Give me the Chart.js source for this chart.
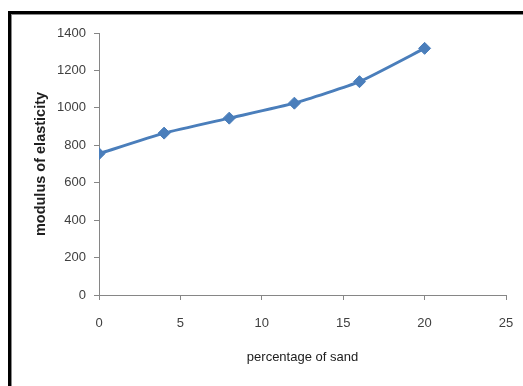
<!DOCTYPE html>
<html>
<head>
<meta charset="utf-8">
<script src="https://cdn.jsdelivr.net/npm/chart.js@4/dist/chart.umd.min.js"></script>
<style>
  html, body { margin: 0; padding: 0; background: #ffffff; }
  #wrap { position: relative; width: 523px; height: 386px; }
  canvas { display: block; }
</style>
</head>
<body>
<div id="wrap"><canvas id="chart" width="523" height="386"></canvas></div>
<script>
// Sand content (%) and the measured modulus of elasticity
const sandPercent = [0, 4, 8, 12, 16, 20];
const modulus = [755, 865, 945, 1025, 1140, 1318];

const xTicks = [0, 5, 10, 15, 20, 25];
const yTicks = [0, 200, 400, 600, 800, 1000, 1200, 1400];

const points = sandPercent.map((x, i) => ({ x: x, y: modulus[i] }));

const axisColor = '#868686';
const labelColor = '#404040';
const fontFamily = "'Liberation Sans', Arial, sans-serif";

// Black frame along the top and left edges of the figure
const framePlugin = {
  id: 'frame',
  afterDraw(chart) {
    const ctx = chart.ctx;
    ctx.save();
    ctx.strokeStyle = '#000000';
    ctx.lineWidth = 3;
    ctx.beginPath();
    ctx.moveTo(8, 12.5);
    ctx.lineTo(523, 12.5);
    ctx.moveTo(9.5, 11);
    ctx.lineTo(9.5, 386);
    ctx.stroke();
    ctx.strokeStyle = '#8a8a8a';
    ctx.lineWidth = 1;
    ctx.beginPath();
    ctx.moveTo(11, 14.5);
    ctx.lineTo(523, 14.5);
    ctx.moveTo(11.5, 14);
    ctx.lineTo(11.5, 386);
    ctx.stroke();
    ctx.restore();
  }
};

const whiteBg = {
  id: 'whiteBg',
  beforeDraw(chart) {
    const ctx = chart.ctx;
    ctx.save();
    ctx.fillStyle = '#ffffff';
    ctx.fillRect(0, 0, chart.width, chart.height);
    ctx.restore();
  }
};

new Chart(document.getElementById('chart'), {
  type: 'scatter',
  data: {
    datasets: [{
      data: points,
      showLine: true,
      borderColor: '#4a7ebb',
      backgroundColor: '#4a7ebb',
      borderWidth: 3,
      tension: 0.15,
      pointStyle: 'rectRot',
      pointRadius: 6,
      pointHoverRadius: 6,
      pointBorderWidth: 1
    }]
  },
  options: {
    responsive: false,
    animation: false,
    events: [],
    layout: { padding: { left: 0, top: 33, right: 17, bottom: 0 } },
    plugins: {
      legend: { display: false },
      tooltip: { enabled: false }
    },
    scales: {
      x: {
        type: 'linear',
        min: 0,
        max: 25,
        afterFit(scale) {
          scale.height = 91;
          scale.paddingLeft = 0;
          scale.paddingRight = 0;
        },
        afterBuildTicks(scale) { scale.ticks = xTicks.map(v => ({ value: v })); },
        grid: { display: true, drawOnChartArea: false, drawTicks: true, tickLength: 5, color: axisColor },
        border: { display: true, color: axisColor, width: 1 },
        ticks: {
          color: labelColor, padding: 16, maxRotation: 0,
          font: { family: fontFamily, size: 13 },
          callback: v => String(v)
        },
        title: {
          display: true,
          text: 'percentage of sand',
          color: '#202020',
          padding: { top: 0, bottom: 21 },
          font: { family: fontFamily, size: 13 }
        }
      },
      y: {
        type: 'linear',
        min: 0,
        max: 1400,
        afterFit(scale) {
          scale.width = 99;
          scale.paddingTop = 0;
          scale.paddingBottom = 0;
        },
        afterBuildTicks(scale) { scale.ticks = yTicks.map(v => ({ value: v })); },
        grid: { display: true, drawOnChartArea: false, drawTicks: true, tickLength: 5, color: axisColor },
        border: { display: true, color: axisColor, width: 1 },
        ticks: {
          color: labelColor, padding: 8,
          font: { family: fontFamily, size: 13 },
          callback: v => String(v)
        },
        title: {
          display: true,
          text: 'modulus of elasticity',
          color: '#202020',
          padding: { top: 32, bottom: 0 },
          font: { family: fontFamily, size: 14.5, weight: 'bold' }
        }
      }
    }
  },
  plugins: [whiteBg, framePlugin]
});
</script>
</body>
</html>
